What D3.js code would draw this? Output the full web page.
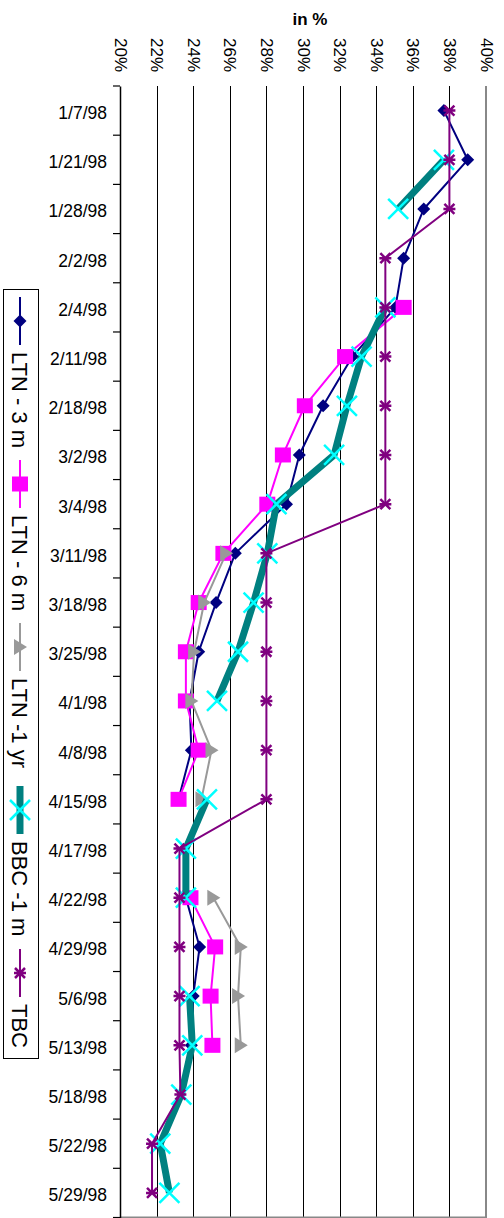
<!DOCTYPE html>
<html>
<head>
<meta charset="utf-8">
<script src="https://cdn.jsdelivr.net/npm/d3@7/dist/d3.min.js"></script>
<style>
  html, body { margin: 0; padding: 0; background: #fff; }
  svg { display: block; font-family: "Liberation Sans", Arial, sans-serif; }
</style>
</head>
<body>
<svg id="chart" width="504" height="1218"></svg>
<script>
// ---------- data ----------
const dates = ["1/7/98","1/21/98","1/28/98","2/2/98","2/4/98","2/11/98","2/18/98","3/2/98","3/4/98",
  "3/11/98","3/18/98","3/25/98","4/1/98","4/8/98","4/15/98","4/17/98","4/22/98","4/29/98",
  "5/6/98","5/13/98","5/18/98","5/22/98","5/29/98"];
const ltn3m  = [37.7, 39.0, 36.6, 35.5, 35.05, 32.7, 31.1, 29.8, 29.1, 26.3, 25.25, 24.3, 23.8, 23.9, 23.2, null, 23.6, 24.35, 24.0, 23.9, null, null, null];
const ltn6m  = [null, null, null, null, 35.5, 32.3, 30.1, 28.9, 28.05, 25.65, 24.3, 23.6, 23.6, 24.3, 23.2, null, 23.85, 25.2, 24.95, 25.05, null, null, null];
const ltn1yr = [null, null, null, null, null, null, null, null, null, 25.8, 24.6, 24.05, 23.9, 25.0, 24.45, null, 25.1, 26.6, 26.45, 26.6, null, null, null];
const bbc1m  = [null, 37.7, 35.2, null, 34.5, 33.2, 32.4, 31.7, 28.55, 28.05, 27.3, 26.45, 25.3, null, 24.75, 23.6, 23.6, null, 23.8, 23.95, 23.35, 22.2, 22.7];
const tbc    = [38.0, 38.0, 38.0, 34.5, 34.5, 34.5, 34.5, 34.5, 34.5, 28.0, 28.0, 28.0, 28.0, 28.0, 28.0, 23.25, 23.25, 23.25, 23.25, 23.25, 23.3, 21.75, 21.75];
const valueTicks = [20, 22, 24, 26, 28, 30, 32, 34, 36, 38, 40];
const seriesNames = ["LTN - 3 m", "LTN - 6 m", "LTN -1 yr", "BBC -1 m", "TBC"];
const axisTitle = "in %";

// ---------- layout ----------
const svg = d3.select("#chart");
const pLeft = 120, pRight = 486, pTop = 86, pBottom = 1217.5;
const x = d3.scaleLinear().domain([20, 40]).range([pLeft, pRight]);
const y = d3.scaleBand().domain(dates).range([pTop, pBottom]).padding(0);
const cy = d => y(d) + y.bandwidth() / 2;

// gridlines
svg.append("g").selectAll("line").data(valueTicks.filter(v => v > 20 && v < 40)).join("line")
  .attr("x1", d => Math.round(x(d)) + 0.5).attr("x2", d => Math.round(x(d)) + 0.5)
  .attr("y1", pTop).attr("y2", pBottom)
  .attr("stroke", "#000").attr("stroke-width", 1);

// plot border (right & bottom gray)
svg.append("line").attr("x1", pRight).attr("x2", pRight).attr("y1", pTop).attr("y2", pBottom + 1)
  .attr("stroke", "#888").attr("stroke-width", 2);
svg.append("line").attr("x1", pLeft).attr("x2", pRight + 1).attr("y1", pBottom).attr("y2", pBottom)
  .attr("stroke", "#888").attr("stroke-width", 2);

// category axis (left)
const catAxis = svg.append("g").attr("transform", `translate(${pLeft},0)`)
  .call(d3.axisLeft(y).tickSize(0).tickPadding(13));
catAxis.select(".domain").attr("stroke", "#000").attr("stroke-width", 1.5);
catAxis.selectAll("text").attr("font-size", 17.5).attr("fill", "#000")
  .attr("font-family", "Liberation Sans, Arial, sans-serif").attr("dy", "0.48em");
const bounds = dates.map(d => y(d)).concat([pBottom]);
svg.append("g").selectAll("line").data(bounds).join("line")
  .attr("x1", pLeft - 7).attr("x2", pLeft).attr("y1", d => d).attr("y2", d => d)
  .attr("stroke", "#000").attr("stroke-width", 1.2);

// value axis labels (top, rotated)
const valAxis = svg.append("g").attr("transform", `translate(0,${pTop})`)
  .call(d3.axisTop(x).tickValues(valueTicks).tickFormat(d => d + "%").tickSize(0));
valAxis.select(".domain").remove();
valAxis.selectAll("text")
  .attr("font-size", 17).attr("fill", "#000").attr("font-family", "Liberation Sans, Arial, sans-serif")
  .attr("text-anchor", "start")
  .attr("transform", `translate(0,${38 - pTop}) rotate(90)`)
  .attr("x", 0).attr("y", 0).attr("dy", "0.35em");

svg.append("text").attr("x", 310).attr("y", 25).attr("text-anchor", "middle")
  .attr("font-size", 17).attr("font-weight", "bold").text(axisTitle);

// ---------- markers ----------
const markers = {
  diamond: (g, color) => g.append("path").attr("d", "M0,-6.5L6.5,0L0,6.5L-6.5,0Z").attr("fill", color),
  square: (g, color) => g.append("rect").attr("x", -8).attr("y", -7.5).attr("width", 16).attr("height", 15).attr("fill", color),
  triangle: (g, color) => g.append("path").attr("d", "M-6,-8L7,0L-6,8Z").attr("fill", color),
  cross: (g, color) => g.append("path").attr("d", "M-10,-10L10,10M-10,10L10,-10").attr("stroke", color).attr("stroke-width", 2.5).attr("fill", "none"),
  star: (g, color) => g.append("path").attr("d", "M-5,-5L5,5M-5,5L5,-5M-6,0L6,0").attr("stroke", color).attr("stroke-width", 2.5).attr("fill", "none")
};

const series = [
  { name: seriesNames[0], values: ltn3m, line: "#000080", lw: 2, marker: "diamond", mc: "#000080" },
  { name: seriesNames[1], values: ltn6m, line: "#FF00FF", lw: 2, marker: "square", mc: "#FF00FF" },
  { name: seriesNames[2], values: ltn1yr, line: "#999999", lw: 2, marker: "triangle", mc: "#999999" },
  { name: seriesNames[3], values: bbc1m, line: "#008080", lw: 7, marker: "cross", mc: "#00FFFF" },
  { name: seriesNames[4], values: tbc, line: "#800080", lw: 2, marker: "star", mc: "#800080" }
];

const lineGen = d3.line().defined(d => d.v != null).x(d => x(d.v)).y(d => cy(d.c));

series.forEach(s => {
  const pts = dates.map((c, i) => ({ c, v: s.values[i] }));
  const g = svg.append("g");
  g.append("path").datum(pts).attr("d", lineGen)
    .attr("fill", "none").attr("stroke", s.line).attr("stroke-width", s.lw)
    .attr("stroke-linejoin", "round");
  pts.filter(p => p.v != null).forEach(p => {
    const mg = g.append("g").attr("transform", `translate(${x(p.v)},${cy(p.c)})`);
    markers[s.marker](mg, s.mc);
  });
});

// ---------- legend (rotated) ----------
const lg = svg.append("g");
lg.append("rect").attr("x", 3.5).attr("y", 289.5).attr("width", 35).attr("height", 769)
  .attr("fill", "#fff").attr("stroke", "#000").attr("stroke-width", 1);
series.forEach((s, i) => {
  const y0 = 297 + i * 163;
  lg.append("line").attr("x1", 20).attr("x2", 20).attr("y1", y0).attr("y2", y0 + 48)
    .attr("stroke", s.line).attr("stroke-width", s.lw);
  const mg = lg.append("g").attr("transform", `translate(20,${y0 + 24})`);
  markers[s.marker](mg, s.mc);
  lg.append("text").attr("transform", `translate(20,${y0 + 55}) rotate(90)`)
    .attr("dy", "0.35em").attr("font-size", 22).attr("fill", "#000").text(s.name);
});
</script>
</body>
</html>
